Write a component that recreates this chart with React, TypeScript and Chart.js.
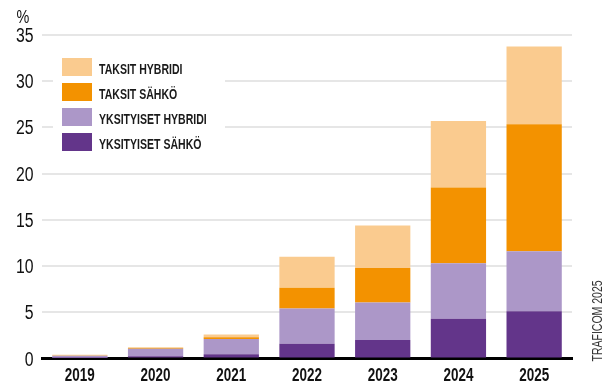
import React, { useEffect, useRef } from "react";
import { Chart, registerables } from "chart.js";

Chart.register(...registerables);

const years = ["2019", "2020", "2021", "2022", "2023", "2024", "2025"];
const yksityisetSahko = [0.05, 0.25, 0.45, 1.6, 2.0, 4.3, 5.1];
const yksityisetHybridi = [0.25, 0.8, 1.65, 3.8, 4.05, 6.0, 6.5];
const taksitSahko = [0.02, 0.1, 0.2, 2.25, 3.75, 8.2, 13.75];
const taksitHybridi = [0.08, 0.05, 0.3, 3.35, 4.6, 7.2, 8.4];
const yTicks = [0, 5, 10, 15, 20, 25, 30, 35];

const FONT = "'Liberation Sans', Arial, sans-serif";

function condensedText(
  ctx: CanvasRenderingContext2D,
  text: string,
  x: number,
  y: number,
  font: string,
  sx: number,
  align: CanvasTextAlign,
  color: string
) {
  ctx.save();
  ctx.translate(x, y);
  ctx.scale(sx, 1);
  ctx.font = font;
  ctx.fillStyle = color;
  ctx.textAlign = align;
  ctx.textBaseline = "alphabetic";
  ctx.fillText(text, 0, 0);
  ctx.restore();
}

const overlayPlugin = {
  id: "overlay",
  afterDatasetsDraw(chart: any) {
    const ctx = chart.ctx as CanvasRenderingContext2D;
    ctx.save();
    ctx.fillStyle = "#ffffff";
    ctx.fillRect(53, 48, 172, 112);
    const ds = chart.data.datasets.slice().reverse();
    ds.forEach((d: any, i: number) => {
      const cy = 67 + i * 25;
      ctx.fillStyle = d.backgroundColor;
      ctx.fillRect(62, cy - 9, 30, 18);
      condensedText(ctx, d.label, 99, cy + 7, `bold 15.5px ${FONT}`, 0.68, "left", "#1a1a1a");
    });
    ctx.restore();
  },
  afterDraw(chart: any) {
    const ctx = chart.ctx as CanvasRenderingContext2D;
    const xs = chart.scales.x;
    const ys = chart.scales.y;
    yTicks.forEach((v) => {
      const y = ys.getPixelForValue(v);
      condensedText(ctx, String(v), 33.5, y + 7, `19.5px ${FONT}`, 0.81, "right", "#111111");
    });
    chart.data.labels.forEach((lab: string, i: number) => {
      const x = xs.getPixelForTick(i);
      condensedText(ctx, lab, x, 381, `bold 17.5px ${FONT}`, 0.77, "center", "#111111");
    });
    condensedText(ctx, "%", 16.5, 23, `18px ${FONT}`, 0.8, "left", "#111111");
    ctx.save();
    ctx.translate(602, 361.5);
    ctx.rotate(-Math.PI / 2);
    condensedText(ctx, "TRAFICOM 2025", 0, 0, `14px ${FONT}`, 0.75, "left", "#333333");
    ctx.restore();
  },
};

export default function App() {
  const ref = useRef<HTMLCanvasElement | null>(null);
  useEffect(() => {
    if (!ref.current) return;
    const chart = new Chart(ref.current, {
      type: "bar",
      data: {
        labels: years,
        datasets: [
          { label: "YKSITYISET SÄHKÖ", data: yksityisetSahko, backgroundColor: "#63358A" },
          { label: "YKSITYISET HYBRIDI", data: yksityisetHybridi, backgroundColor: "#AC97C8" },
          { label: "TAKSIT SÄHKÖ", data: taksitSahko, backgroundColor: "#F39200" },
          { label: "TAKSIT HYBRIDI", data: taksitHybridi, backgroundColor: "#FACB8F" },
        ],
      },
      options: {
        animation: false,
        responsive: false,
        maintainAspectRatio: false,
        layout: { padding: { left: 0, right: 39, top: 35, bottom: 0 } },
        datasets: { bar: { barPercentage: 0.73, categoryPercentage: 1, borderWidth: 0 } },
        plugins: { legend: { display: false }, tooltip: { enabled: false } },
        scales: {
          x: {
            stacked: true,
            grid: { display: false },
            border: { display: true, color: "#000000", width: 3 },
            ticks: { display: false },
            afterFit: (s: any) => { s.height = 24.5; },
          },
          y: {
            stacked: true,
            min: 0,
            max: 35,
            afterBuildTicks: (s: any) => { s.ticks = yTicks.map((v) => ({ value: v })); },
            grid: { color: "#e6e6e6", lineWidth: 2, drawTicks: false },
            border: { display: false },
            ticks: { display: false },
            afterFit: (s: any) => { s.width = 42; },
          },
        },
      },
      plugins: [overlayPlugin],
    });
    return () => chart.destroy();
  }, []);
  return (
    <div style={{ position: "fixed", left: 0, top: 0, width: 611, height: 383, background: "#fff" }}>
      <canvas ref={ref} width={611} height={383} style={{ width: 611, height: 383, display: "block" }} />
    </div>
  );
}
